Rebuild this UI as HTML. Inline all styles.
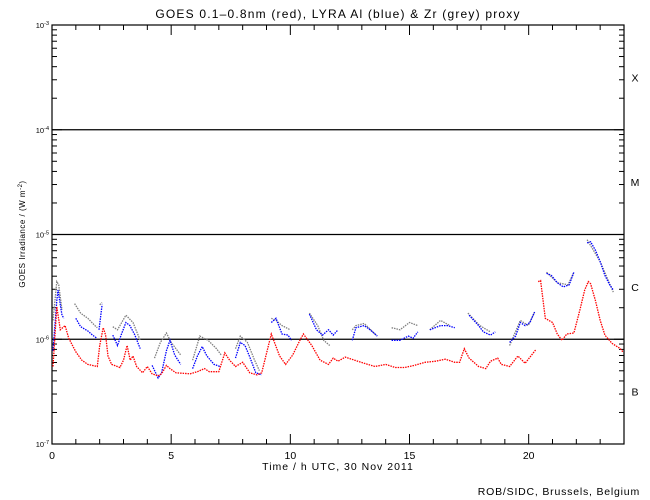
<!DOCTYPE html>
<html><head><meta charset="utf-8"><style>
body{margin:0;background:#fff;}
svg{display:block;font-family:"Liberation Sans",sans-serif;}
</style></head><body>
<svg id="chart" width="650" height="500" xmlns="http://www.w3.org/2000/svg">
<rect width="650" height="500" fill="#fff"/>
<text x="338" y="18" font-size="12" letter-spacing="1.2" text-anchor="middle">GOES 0.1–0.8nm (red), LYRA Al (blue) &amp; Zr (grey) proxy</text>
<text transform="translate(25,234) rotate(-90)" font-size="8" letter-spacing="0.5" text-anchor="middle">GOES Irradiance / (W m<tspan dy="-3" font-size="6">-2</tspan><tspan dy="3">)</tspan></text>
<text x="338" y="470" font-size="10.5" letter-spacing="1" text-anchor="middle">Time / h UTC, 30 Nov 2011</text>
<text x="640" y="495" font-size="10.5" letter-spacing="0.8" text-anchor="end">ROB/SIDC, Brussels, Belgium</text>
<g id="axes"></g>
<g id="series"></g>
</svg>
<script>
const xTicks=[0,5,10,15,20];
const yDecades=[-7,-6,-5,-4,-3];
const classes=['B','C','M','X'];
const redT=[0.04,0.2,0.35,0.55,0.7,1.0,1.25,1.5,1.9,2.0,2.15,2.25,2.35,2.5,2.85,3.0,3.15,3.28,3.4,3.55,3.8,4.0,4.2,4.45,4.6,4.8,4.95,5.2,5.8,6.1,6.4,6.6,7.0,7.25,7.45,7.7,8.0,8.3,8.6,8.8,9.2,9.55,9.8,10.1,10.4,10.55,10.9,11.25,11.6,11.8,12.0,12.3,12.7,13.1,13.55,14.0,14.4,14.8,15.2,15.65,16.1,16.5,16.9,17.1,17.3,17.5,17.9,18.2,18.4,18.7,18.85,19.2,19.55,19.85,20.3,null,20.4,20.5,20.7,21.0,21.2,21.4,21.6,21.9,22.15,22.35,22.5,22.6,22.8,23.0,23.2,23.5,23.85,23.95];
const redLog=[-6.26,-5.69,-5.91,-5.87,-5.99,-6.12,-6.20,-6.24,-6.26,-6.06,-5.89,-5.96,-6.16,-6.24,-6.27,-6.20,-6.06,-6.20,-6.16,-6.26,-6.32,-6.26,-6.33,-6.35,-6.33,-6.25,-6.28,-6.32,-6.33,-6.31,-6.28,-6.31,-6.31,-6.13,-6.20,-6.26,-6.22,-6.32,-6.34,-6.32,-5.95,-6.16,-6.24,-6.15,-6.01,-5.95,-6.06,-6.20,-6.24,-6.18,-6.21,-6.17,-6.20,-6.23,-6.26,-6.24,-6.27,-6.27,-6.25,-6.22,-6.21,-6.19,-6.22,-6.22,-6.09,-6.18,-6.26,-6.28,-6.21,-6.18,-6.24,-6.26,-6.16,-6.23,-6.10,null,-5.45,-5.44,-5.80,-5.84,-5.95,-6.01,-5.95,-5.94,-5.72,-5.53,-5.45,-5.47,-5.63,-5.82,-5.96,-6.04,-6.09,-6.12];
const blueT=[0.04,0.2,0.25,0.35,0.42,0.5,null,1.0,1.2,1.5,1.7,1.88,null,1.97,2.1,null,2.55,2.75,2.9,3.1,3.27,3.48,3.7,null,4.2,4.45,4.6,4.8,4.95,5.15,5.4,null,5.9,6.1,6.3,6.5,6.8,7.05,null,7.7,7.9,8.1,8.3,8.55,8.8,null,9.2,9.4,9.65,9.9,10.05,null,10.8,11.1,11.35,11.6,11.8,12.0,null,12.6,12.75,13.1,13.35,13.65,null,14.25,14.6,14.95,15.15,15.35,null,15.85,16.3,16.6,16.9,null,17.5,17.9,18.1,18.4,18.6,null,19.2,19.45,19.65,19.85,20.05,20.25,null,20.75,20.95,21.2,21.45,21.7,21.9,null,22.45,22.6,22.8,23.0,23.2,23.4,23.55];
const blueLog=[-6.11,-5.63,-5.53,-5.67,-5.77,-5.80,null,-5.80,-5.88,-5.92,-5.96,-5.99,null,-5.91,-5.67,null,-5.96,-6.06,-5.96,-5.84,-5.87,-5.96,-6.09,null,-6.25,-6.37,-6.32,-6.11,-6.01,-6.15,-6.24,null,-6.28,-6.16,-6.07,-6.16,-6.24,-6.26,null,-6.18,-6.03,-6.06,-6.17,-6.32,-6.34,null,-5.84,-5.80,-5.95,-5.96,-6.01,null,-5.76,-5.91,-5.96,-5.91,-5.96,-5.91,null,-6.01,-5.89,-5.87,-5.91,-5.97,null,-6.01,-6.01,-5.97,-5.99,-5.93,null,-5.91,-5.87,-5.87,-5.89,null,-5.77,-5.87,-5.93,-5.96,-5.93,null,-6.03,-5.97,-5.84,-5.87,-5.84,-5.74,null,-5.37,-5.39,-5.46,-5.50,-5.48,-5.36,null,-5.08,-5.07,-5.15,-5.26,-5.39,-5.48,-5.53];
const greyT=[0.04,0.2,0.28,0.42,null,0.95,1.2,1.5,1.8,1.9,null,2.0,2.1,null,2.55,2.75,3.1,3.4,3.7,null,4.3,4.55,4.8,5.0,5.4,null,5.9,6.2,6.55,6.9,7.1,null,7.7,7.9,8.2,8.5,8.7,null,9.2,9.4,9.65,10.0,null,10.8,11.15,11.4,11.65,null,12.6,12.75,13.1,13.6,null,14.25,14.6,15.0,15.35,null,15.85,16.3,16.7,null,17.45,17.95,18.4,null,19.2,19.65,19.98,20.25,null,20.75,21.2,21.65,21.9,null,22.45,23.0,23.55];
const greyLog=[-5.82,-5.45,-5.48,-5.72,null,-5.66,-5.75,-5.80,-5.87,-5.89,null,-5.67,-5.65,null,-5.88,-5.91,-5.77,-5.84,-6.01,null,-6.18,-6.03,-5.94,-6.03,-6.15,null,-6.20,-5.97,-6.01,-6.09,-6.15,null,-6.09,-5.97,-6.03,-6.20,-6.30,null,-5.80,-5.82,-5.87,-5.91,null,-5.75,-5.87,-6.01,-6.06,null,-5.91,-5.87,-5.85,-5.96,null,-5.89,-5.91,-5.84,-5.87,null,-5.91,-5.82,-5.87,null,-5.75,-5.87,-5.93,null,-6.06,-5.82,-5.87,-5.74,null,-5.36,-5.46,-5.48,-5.36,null,-5.05,-5.26,-5.55];

const L=52,R=624,T=25,B=444;
const X=h=>L+(h/24)*(R-L);
const Y=lg=>B-(lg+7)/4*(B-T);
const NS='http://www.w3.org/2000/svg';
const ax=document.getElementById('axes');
function mk(tag,attrs,parent){const e=document.createElementNS(NS,tag);for(const k in attrs)e.setAttribute(k,attrs[k]);parent.appendChild(e);return e;}
const frame=mk('rect',{x:L,y:T,width:R-L,height:B-T,fill:'none',stroke:'#000','stroke-width':1.2},ax);


for(let h=0;h<=24;h++){
  const len=xTicks.includes(h)?10:5;
  const t1=mk('line',{x1:X(h),x2:X(h),y1:B,y2:B-len,stroke:'#000'},ax);
  
  
  const t2=mk('line',{x1:X(h),x2:X(h),y1:T,y2:T+len,stroke:'#000'},ax);
  
  
}
xTicks.forEach(h=>{
  const t=mk('text',{x:X(h),y:B+15,'font-size':10.5,'text-anchor':'middle'},ax);t.textContent=h;
  
  
});
yDecades.forEach((d,i)=>{
  const t=mk('text',{x:L-3,y:Y(d)+3,'font-size':7.5,'text-anchor':'end'},ax);
  t.innerHTML='10<tspan dy="-3" font-size="5.5">'+d+'</tspan>';
  
  
  if(d>-7&&d<-3){
    const g=mk('line',{x1:L,x2:R,y1:Y(d),y2:Y(d),stroke:'#000','stroke-width':1.2},ax);
    
    
  }
  if(i<4){
    for(let m=1;m<=9;m++){
      const yy=Y(d+Math.log10(m));const len=m===1?10:5;
      const a=mk('line',{x1:L,x2:L+len,y1:yy,y2:yy,stroke:'#000'},ax);
      
      
      const b=mk('line',{x1:R,x2:R-len,y1:yy,y2:yy,stroke:'#000'},ax);
      
      
    }
    const c=mk('text',{x:635,y:Y(d+0.5)+4,'font-size':10.5,'text-anchor':'middle'},ax);c.textContent=classes[i];
    
    
  }
});
const sg=document.getElementById('series');
function draw(ts,ls,color,name){
  let d='',pen=false;
  for(let i=0;i<ts.length;i++){
    if(ts[i]===null){pen=false;continue;}
    d+=(pen?'L':'M')+X(ts[i]).toFixed(1)+','+Y(ls[i]).toFixed(1);pen=true;
  }
  const p=mk('path',{d:d,fill:'none',stroke:color,'stroke-width':1.3,'stroke-dasharray':'1.5 1'},sg);
  
  
}
draw(greyT,greyLog,'#808080','zr-grey-series');
draw(blueT,blueLog,'#0000ff','al-blue-series');
draw(redT,redLog,'#ff0000','goes-red-series');
</script>
</body></html>
